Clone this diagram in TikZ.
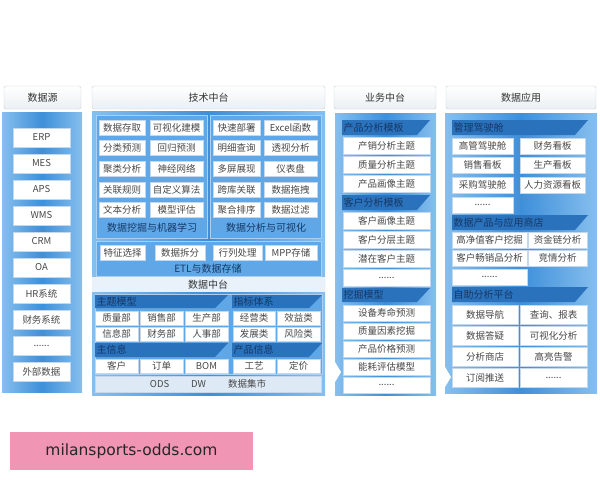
\documentclass[tikz,border=0pt]{standalone}
\usepackage{fontspec}
\setmainfont{Noto Sans CJK SC}
\newfontfamily\wmfont{DejaVu Sans}
\definecolor{bodyL}{HTML}{86BFEE}
\definecolor{bodyM}{HTML}{3E8FDA}
\definecolor{panelc}{HTML}{5FA7E6}
\definecolor{panelb}{HTML}{A9D0F2}
\definecolor{barc}{HTML}{2A72BC}
\definecolor{bart}{HTML}{163866}
\definecolor{boxb}{HTML}{C3D8EE}
\definecolor{boxt}{HTML}{484848}
\definecolor{hdrb}{HTML}{C6CED8}
\definecolor{hdrbot}{HTML}{EBEFF3}
\definecolor{hdrt}{HTML}{333333}
\definecolor{bandc}{HTML}{E9F2FB}
\definecolor{odsc}{HTML}{DDE9F5}
\definecolor{pinkc}{HTML}{F096B4}
\newcommand\FS[1]{\fontsize{#1}{#1}\selectfont}
\newcommand\BX[7]{\node[#1, minimum width={#5-#3}, minimum height={#6-#4}] (#2) at ({(#3+#5)/2},{(#4+#6)/2}) {#7};}
\newcommand\BAR[6]{\fill[barc] (#2,#3) -- (#4,#3) -- ({#4-13},#5) -- (#2,#5) -- cycle;
  \node[bartext] (#1) at ({#2+1.5},{(#3+#5)/2}) {#6};}
\tikzset{
  wb/.style={draw=boxb, fill=white, inner sep=0pt, font=\FS{9.5}, text=boxt},
  hdr/.style={draw=hdrb, top color=white, bottom color=hdrbot, rounded corners=1.5pt, inner sep=0pt, font=\FS{10}, text=hdrt},
  bartext/.style={font=\FS{10}, text=bart, inner sep=0pt, anchor=west},
  lbl/.style={font=\FS{10}, text=bart, inner sep=0pt},
  colbody/.style={left color=bodyL, right color=bodyL, middle color=bodyM},
  panel/.style={fill=panelc, draw=panelb, line width=0.6pt}
}
\begin{document}
\begin{tikzpicture}[x=1pt,y=-1pt]
\useasboundingbox (0,0) rectangle (600,480);
% headers
\BX{hdr}{h1}{4}{86}{81}{109}{数据源}
\BX{hdr}{h2}{92}{86}{325}{109}{技术中台}
\BX{hdr}{h3}{334}{86}{436}{109}{业务中台}
\BX{hdr}{h4}{446}{86}{596}{109}{数据应用}
% column 1
\shade[colbody] (2,112) rectangle (82,392);
\BX{wb}{s1}{13}{128}{70}{147}{ERP}
\BX{wb}{s2}{13}{154}{70}{173}{MES}
\BX{wb}{s3}{13}{180}{70}{199}{APS}
\BX{wb}{s4}{13}{206}{70}{225}{WMS}
\BX{wb}{s5}{13}{232}{70}{251}{CRM}
\BX{wb}{s6}{13}{258}{70}{277}{OA}
\BX{wb}{s7}{13}{284}{70}{303}{HR系统}
\BX{wb}{s8}{13}{310}{70}{329}{财务系统}
\BX{wb}{s9}{13}{336}{70}{355}{......}
\BX{wb}{s10}{13}{362}{70}{381}{外部数据}
% column 2
\shade[colbody] (92,111) rectangle (325,395);
\fill[panel] (96,115) rectangle (207,238);
\fill[panel] (210,115) rectangle (321,238);
\fill[panel] (96,241) rectangle (321,276);
\fill[panel] (95,294) rectangle (322,374);
\BX{wb}{t11}{99}{120}{145}{135}{数据存取}
\BX{wb}{t12}{150}{120}{203}{135}{可视化建模}
\BX{wb}{t13}{213}{120}{260}{135}{快速部署}
\BX{wb}{t14}{264}{120}{317}{135}{Excel函数}
\BX{wb}{t21}{99}{140}{145}{155}{分类预测}
\BX{wb}{t22}{150}{140}{203}{155}{回归预测}
\BX{wb}{t23}{213}{140}{260}{155}{明细查询}
\BX{wb}{t24}{264}{140}{317}{155}{透视分析}
\BX{wb}{t31}{99}{161}{145}{176}{聚类分析}
\BX{wb}{t32}{150}{161}{203}{176}{神经网络}
\BX{wb}{t33}{213}{161}{260}{176}{多屏展现}
\BX{wb}{t34}{264}{161}{317}{176}{仪表盘}
\BX{wb}{t41}{99}{182}{145}{197}{关联规则}
\BX{wb}{t42}{150}{182}{203}{197}{自定义算法}
\BX{wb}{t43}{213}{182}{260}{197}{跨库关联}
\BX{wb}{t44}{264}{182}{317}{197}{数据拖拽}
\BX{wb}{t51}{99}{202}{145}{217}{文本分析}
\BX{wb}{t52}{150}{202}{203}{217}{模型评估}
\BX{wb}{t53}{213}{202}{260}{217}{聚合排序}
\BX{wb}{t54}{264}{202}{317}{217}{数据过滤}
\node[lbl] (lm) at (152,228) {数据挖掘与机器学习};
\node[lbl] (la) at (266,228) {数据分析与可视化};
\BX{wb}{e1}{100}{245}{145}{260}{特征选择}
\BX{wb}{e2}{155}{245}{205}{260}{数据拆分}
\BX{wb}{e3}{213}{245}{262}{260}{行列处理}
\BX{wb}{e4}{265}{245}{317}{260}{MPP存储}
\node[lbl] (le) at (208,268.5) {ETL与数据存储};
\fill[bandc] (92,277) rectangle (325,292);
\node[font=\FS{10}, text=hdrt, inner sep=0pt] (zt) at (208,284.5) {数据中台};
\BAR{b1}{95}{295}{228}{308}{主题模型}
\BAR{b2}{232}{295}{322}{308}{指标体系}
\BX{wb}{m11}{95}{311}{138}{325}{质量部}
\BX{wb}{m12}{140}{311}{183}{325}{销售部}
\BX{wb}{m13}{185}{311}{228}{325}{生产部}
\BX{wb}{m14}{233}{311}{275}{325}{经营类}
\BX{wb}{m15}{277}{311}{320}{325}{效益类}
\BX{wb}{m21}{95}{327}{138}{341}{信息部}
\BX{wb}{m22}{140}{327}{183}{341}{财务部}
\BX{wb}{m23}{185}{327}{228}{341}{人事部}
\BX{wb}{m24}{233}{327}{275}{341}{发展类}
\BX{wb}{m25}{277}{327}{320}{341}{风险类}
\BAR{b3}{95}{343}{228}{357}{主信息}
\BAR{b4}{232}{343}{322}{357}{产品信息}
\BX{wb}{m31}{95}{359}{138}{373}{客户}
\BX{wb}{m32}{140}{359}{183}{373}{订单}
\BX{wb}{m33}{185}{359}{228}{373}{BOM}
\BX{wb}{m34}{233}{359}{275}{373}{工艺}
\BX{wb}{m35}{277}{359}{320}{373}{定价}
\node[draw=boxb, fill=odsc, minimum width=226, minimum height=16, inner sep=0pt, font=\FS{9.5}, text=boxt] (ods) at (208,384) {ODS\hspace{22pt}DW\hspace{22pt}数据集市};
% column 3
\shade[colbody] (335,113) rectangle (436,395);
\fill[white] (335,362) -- (341,372) -- (335,382) -- cycle;
\BAR{c1}{342}{120}{430}{135}{产品分析模板}
\BX{wb}{p1}{343}{137}{430}{154}{产销分析主题}
\BX{wb}{p2}{343}{156}{430}{173}{质量分析主题}
\BX{wb}{p3}{343}{175}{430}{192}{产品画像主题}
\BAR{c2}{342}{195}{430}{210}{客户分析模板}
\BX{wb}{q1}{343}{212}{430}{229}{客户画像主题}
\BX{wb}{q2}{343}{231}{430}{248}{客户分层主题}
\BX{wb}{q3}{343}{250}{430}{267}{潜在客户主题}
\BX{wb}{q4}{343}{269}{430}{286}{......}
\BAR{c3}{342}{288}{430}{302}{挖掘模型}
\BX{wb}{r1}{343}{305}{430}{321}{设备寿命预测}
\BX{wb}{r2}{343}{323}{430}{339}{质量因素挖掘}
\BX{wb}{r3}{343}{341}{430}{357}{产品价格预测}
\BX{wb}{r4}{343}{359}{430}{375}{能耗评估模型}
\BX{wb}{r5}{343}{377}{430}{393}{......}
% column 4
\shade[colbody] (445,113) rectangle (597,393);
\fill[white] (445,367) -- (451,377) -- (445,387) -- cycle;
\BAR{d1}{452}{120}{588}{135}{管理驾驶舱}
\BX{wb}{u11}{452}{138}{513}{154}{高管驾驶舱}
\BX{wb}{u12}{520}{138}{585}{154}{财务看板}
\BX{wb}{u21}{452}{157}{513}{173}{销售看板}
\BX{wb}{u22}{520}{157}{585}{173}{生产看板}
\BX{wb}{u31}{452}{177}{513}{193}{采购驾驶舱}
\BX{wb}{u32}{520}{177}{585}{193}{人力资源看板}
\BX{wb}{u41}{452}{197}{513}{213}{......}
\BAR{d2}{452}{215}{588}{230}{数据产品与应用商店}
\BX{wb}{v11}{452}{232}{527}{248}{高净值客户挖掘}
\BX{wb}{v12}{528}{232}{587}{248}{资金链分析}
\BX{wb}{v21}{452}{250}{527}{266}{客户畅销品分析}
\BX{wb}{v22}{528}{250}{587}{266}{竞情分析}
\BX{wb}{v31}{452}{269}{527}{285}{......}
\BAR{d3}{452}{287}{588}{302}{自助分析平台}
\BX{wb}{w11}{452}{305}{518}{324}{数据导航}
\BX{wb}{w12}{520}{305}{587}{324}{查询、报表}
\BX{wb}{w21}{452}{326}{518}{345}{数据答疑}
\BX{wb}{w22}{520}{326}{587}{345}{可视化分析}
\BX{wb}{w31}{452}{347}{518}{366}{分析商店}
\BX{wb}{w32}{520}{347}{587}{366}{高亮告警}
\BX{wb}{w41}{452}{368}{518}{387}{订阅推送}
\BX{wb}{w42}{520}{368}{587}{387}{......}
% watermark
\fill[pinkc] (10,432) rectangle (253,470);
\node[font=\wmfont\FS{15.5}, text=black!85, inner sep=0pt] (wm) at (131.5,451) {milansports-odds.com};
\end{tikzpicture}
\end{document}
